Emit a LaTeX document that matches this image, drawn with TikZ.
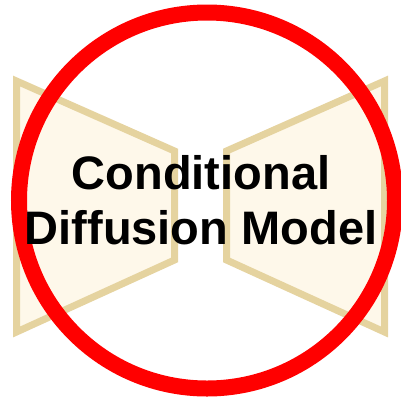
\documentclass[tikz,border=0pt]{standalone}
\usepackage{fontspec}
\setmainfont{Liberation Sans}
\definecolor{creamfill}{HTML}{FEF8EA}
\definecolor{tanline}{HTML}{E5D39F}
\definecolor{markred}{HTML}{FF0000}
\tikzset{
  halfnet/.style={draw=tanline, fill=creamfill, line width=7pt, line join=miter},
  crossring/.style={draw=markred, line width=16pt},
  title/.style={align=center, inner sep=0pt, font=\fontsize{47}{55}\selectfont\bfseries}
}
\begin{document}
\begin{tikzpicture}[x=1pt,y=-1pt]
  \useasboundingbox (0,0) rectangle (401,400);
  % encoder (left) and decoder (right) halves
  \draw[halfnet] (16.5,81) -- (174.5,151) -- (174.5,260) -- (16.5,332) -- cycle;
  \draw[halfnet] (384.5,81) -- (226.5,151) -- (226.5,260) -- (384.5,332) -- cycle;
  % red ring over everything
  \coordinate (ringc) at (207,200.5);
  \draw[crossring] (ringc) circle (188);
  \node[title] (model) at (201,200) {Conditional\\Diffusion Model};
\end{tikzpicture}
\end{document}
